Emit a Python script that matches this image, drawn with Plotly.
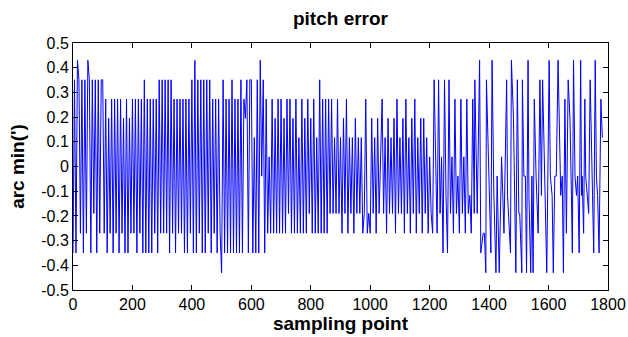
import plotly.graph_objects as go

# Quantised levels (arc min) coded by letters a..l
level_codes = "abcdefghijkl"
level_values = [-0.43, -0.35, -0.27, -0.19, -0.117, -0.039,
                0.039, 0.117, 0.195, 0.273, 0.351, 0.43]

# Dense part: one code every 5 sampling points, blocks of 100 points
dense_step = 5
dense_blocks = [
    "bkblkckbkclkbkdkbkck",  # 0-95
    "kcjbicjbjcjbjcibjbic",  # 100-195
    "jcjbjcjbkbjbjbjcjbkc",  # 200-295
    "kckckbkcjbjcjcjbjbjc",  # 300-395
    "kblbkckbkbkckbjcjbjc",  # 400-495
    "akbjbjbkbjbjbkbjikbk",  # 500-595
    "kbhbkblfkbjcgcjcicjc",  # 600-695
    "jcicjdjcicjchcjcicjd",  # 700-795
    "icjchckcjcjcjdjdhdjd",  # 800-895
    "hcidjchdhcidhdhcdjcd",  # 900-995
    "cidhcidhjdhcidhdicjd",  # 1000-1095
    "hdicjdhcidjchdicidhc",  # 1100-1195
    "gdckfckdgbkebkdgcjdf",  # 1200-1295
    "cjdgcjdecjd",           # 1300-1350
]

# Sparse part: explicit vertices (sampling point, code)
sparse_x = [1352, 1360, 1368, 1372, 1380, 1384, 1389, 1391, 1398, 1406,
            1410, 1416, 1423, 1427, 1434, 1442, 1450, 1459, 1462, 1468,
            1472, 1475, 1482, 1486, 1490, 1495, 1500, 1503, 1510, 1512,
            1517, 1522, 1526, 1531, 1534, 1540, 1544, 1548, 1552, 1558,
            1565, 1571, 1576, 1580, 1588, 1594, 1602, 1606, 1612, 1616,
            1621, 1626, 1632, 1638, 1641, 1646, 1650, 1655, 1657, 1660,
            1666, 1672, 1677, 1680, 1684, 1689, 1694, 1698, 1703, 1708,
            1711, 1713, 1718, 1722, 1725, 1730, 1735, 1740, 1745, 1748,
            1752, 1757, 1761, 1765, 1770, 1776, 1781, 1784, 1788]
sparse_codes = ("kdlbccakfb"
                "leafagckec"
                "bliea" "kdda"
                "kffaleafaj"
                "fckekfalfe"
                "afflfefaj"
                "fckiebl" "fefb"
                "lefcjfedk"
                "feblfebjh")

y_ticks = [-0.5, -0.4, -0.3, -0.2, -0.1, 0, 0.1, 0.2, 0.3, 0.4, 0.5]
y_tick_text = ["-0.5", "-0.4", "-0.3", "-0.2", "-0.1", "0", "0.1", "0.2", "0.3", "0.4", "0.5"]
x_ticks = [0, 200, 400, 600, 800, 1000, 1200, 1400, 1600, 1800]

code_map = dict(zip(level_codes, level_values))
dense_codes = "".join(dense_blocks)
xs = [i * dense_step for i in range(len(dense_codes))] + sparse_x
ys = [code_map[c] for c in dense_codes] + [code_map[c] for c in sparse_codes[:len(sparse_x)]]

font = "Liberation Sans, Arial, sans-serif"

fig = go.Figure(go.Scatter(x=xs, y=ys, mode="lines",
                           line=dict(color="#0000FF", width=1)))

fig.update_layout(
    width=628, height=337,
    margin=dict(l=73, r=20, t=43, b=47),
    paper_bgcolor="white", plot_bgcolor="white",
    showlegend=False,
    font=dict(family=font, size=16, color="black"),
    title=dict(text="<b>pitch error</b>", x=0.5, xref="paper",
               y=1 - 18 / 337, yref="container", yanchor="middle",
               font=dict(size=19, family=font, color="black")),
)
fig.update_xaxes(range=[0, 1800], tickvals=x_ticks, automargin=False,
                 ticks="inside", ticklen=5, tickcolor="black",
                 showline=True, linecolor="black", linewidth=1, mirror="ticks",
                 showgrid=False, zeroline=False,
                 tickfont=dict(size=16, family=font),
                 title=dict(text="<b>sampling point</b>", standoff=3,
                            font=dict(size=19, family=font)))
fig.update_yaxes(range=[-0.5, 0.5], tickvals=y_ticks, ticktext=y_tick_text,
                 automargin=False,
                 ticks="inside", ticklen=5, tickcolor="black",
                 showline=True, linecolor="black", linewidth=1, mirror="ticks",
                 showgrid=False, zeroline=False,
                 tickfont=dict(size=16, family=font),
                 title=dict(text="<b>arc min(')</b>", standoff=11,
                            font=dict(size=19, family=font)))

fig.write_html("out.html")
